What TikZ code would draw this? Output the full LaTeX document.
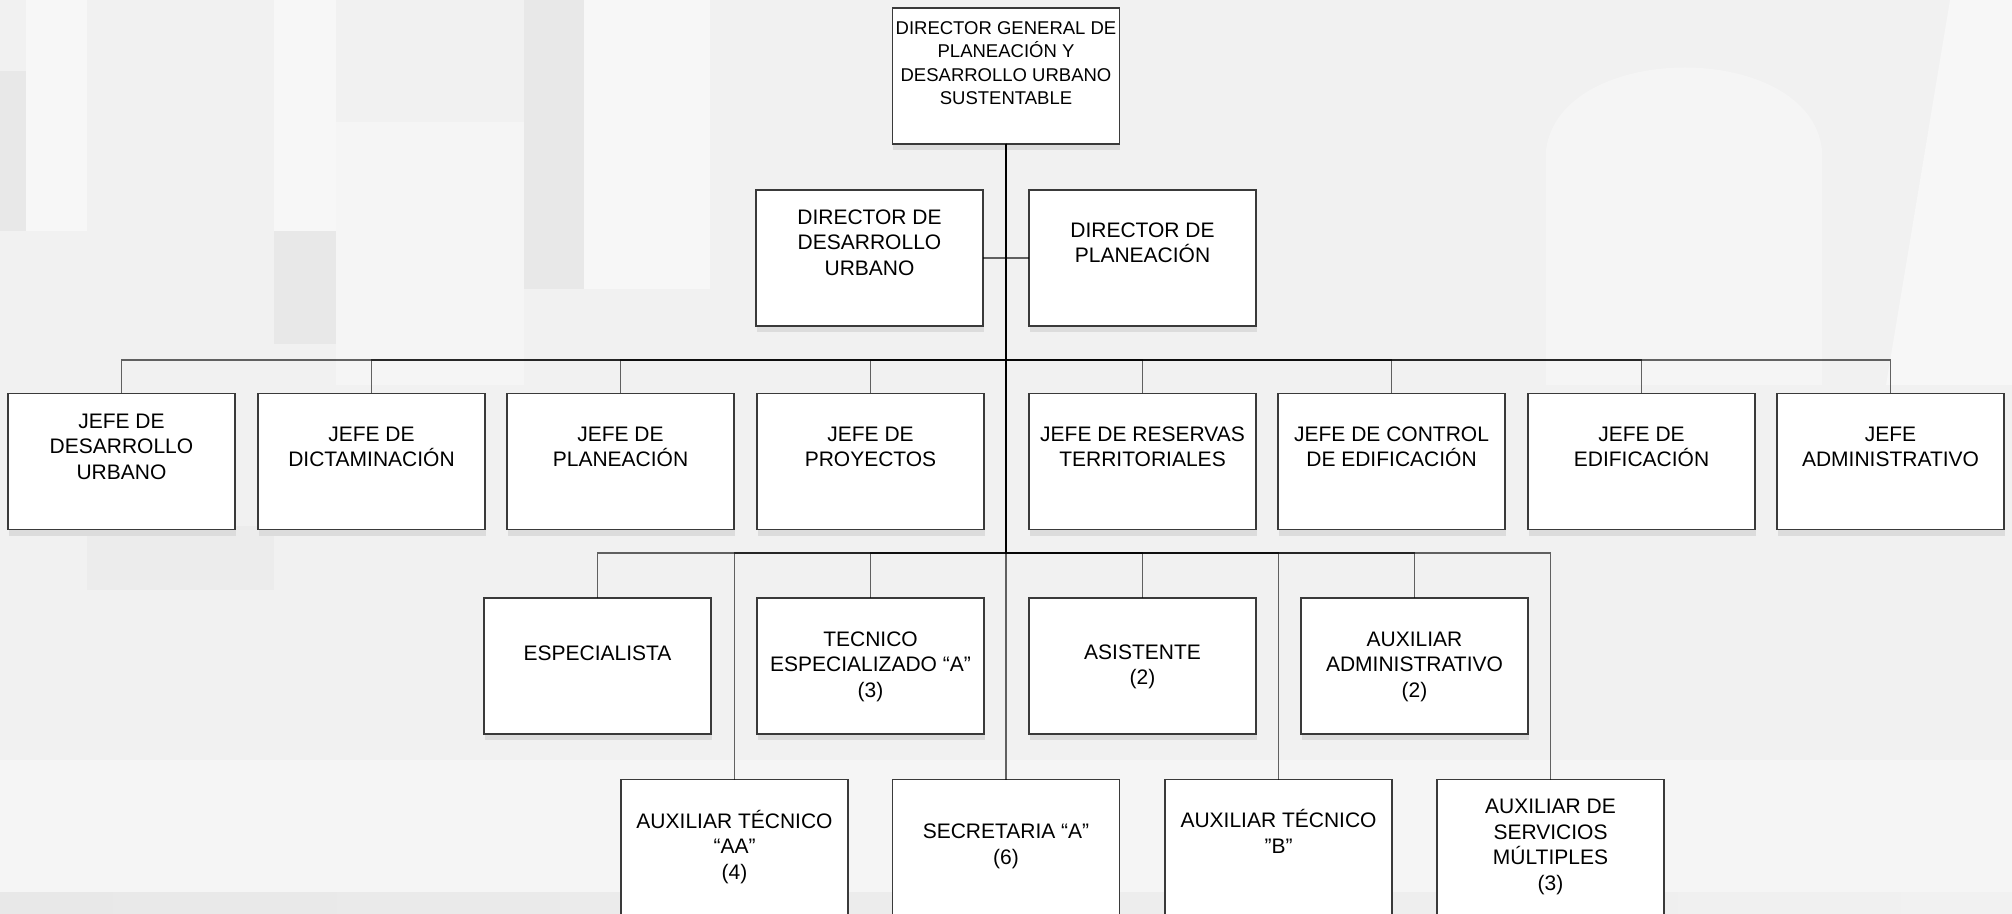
\documentclass[tikz,border=0pt]{standalone}
\usepackage{fontspec}
\setmainfont{Liberation Sans}
\usetikzlibrary{shadows}
\definecolor{bgbase}{HTML}{F1F1F1}
\definecolor{bglight}{HTML}{F7F7F7}
\definecolor{bgdark}{HTML}{E8E8E8}
\definecolor{bordercol}{HTML}{3A3A3A}
\definecolor{shadowcol}{HTML}{DCDCDC}
\begin{document}
\begin{tikzpicture}[x=0.5pt,y=-0.5pt,
  orgbox/.style={draw=bordercol, fill=white, line width=0.7pt,
    minimum width=113.5pt, minimum height=68pt, inner sep=0pt, outer sep=0pt,
    drop shadow={shadow xshift=0.3pt, shadow yshift=-3pt, fill=shadowcol, opacity=1}},
  lbl/.style={align=center, inner sep=0pt, text=black,
    font=\fontsize{10.5}{12.8}\selectfont,
    execute at begin node=\strut, execute at end node=\strut},
  toplbl/.style={lbl, font=\fontsize{9.25}{11.6}\selectfont},
  conn/.style={draw=black, draw opacity=0.6, line width=0.6pt}]
\useasboundingbox (0,0) rectangle (2012,914);
% background watermark
\fill[bgbase] (0,0) rectangle (2012,914);
\fill[bgdark] (0,71) rectangle (26,231);
\fill[bglight] (26,0) rectangle (87,231);
\fill[bglight] (274,0) rectangle (336,231);
\fill[bgdark] (274,231) rectangle (336,344);
\fill[bglight!60!bgbase] (336,122) rectangle (524,385);
\fill[bgdark] (524,0) rectangle (584,289);
\fill[bglight] (584,0) rectangle (710,289);
\fill[bgdark!60!bgbase] (87,526) rectangle (274,590);
\fill[bglight!60!bgbase] (1546,385) -- (1546,150) .. controls (1560,40) and (1810,40) .. (1822,150) -- (1822,385) -- cycle;
\fill[bglight] (1886,385) -- (1950,0) -- (2012,0) -- (2012,385) -- cycle;
\fill[bglight!70!bgbase] (0,760) rectangle (2012,892);
\shade[left color=bgdark, right color=bgbase] (0,892) rectangle (2012,914);
% junction points
\coordinate (b1) at (1006,360);
\coordinate (b2) at (1006,553);
% boxes
\node[orgbox] (dg) at (1006,76) {};
\node[orgbox] (ddu) at (869.5,258) {};
\node[orgbox] (dp) at (1142.5,258) {};
\node[orgbox] (j1) at (121.5,461.5) {};
\node[orgbox] (j2) at (371.5,461.5) {};
\node[orgbox] (j3) at (620.5,461.5) {};
\node[orgbox] (j4) at (870.5,461.5) {};
\node[orgbox] (j5) at (1142.5,461.5) {};
\node[orgbox] (j6) at (1391.5,461.5) {};
\node[orgbox] (j7) at (1641.5,461.5) {};
\node[orgbox] (j8) at (1890.5,461.5) {};
\node[orgbox] (r31) at (597.5,666) {};
\node[orgbox] (r32) at (870.5,666) {};
\node[orgbox] (r33) at (1142.5,666) {};
\node[orgbox] (r34) at (1414.5,666) {};
\node[orgbox] (r41) at (734.5,847.5) {};
\node[orgbox] (r42) at (1006,847.5) {};
\node[orgbox] (r43) at (1278.5,847.5) {};
\node[orgbox] (r44) at (1550.5,847.5) {};
% connectors
\draw[conn] (dg.south) |- (ddu.east);
\draw[conn] (dg.south) |- (dp.west);
\foreach \j in {j1,j2,j3,j4,j5,j6,j7,j8}
  \draw[conn] (dg.south) -- (b1) -| (\j.north);
\foreach \r in {r31,r32,r33,r34,r41,r42,r43,r44}
  \draw[conn] (dg.south) -- (b2) -| (\r.north);
% texts
\node[toplbl] (tdg) at (1006,66.5) {DIRECTOR GENERAL DE\\PLANEACIÓN Y\\DESARROLLO URBANO\\SUSTENTABLE};
\node[lbl] (tddu) at (869.5,246.5) {DIRECTOR DE\\DESARROLLO\\URBANO};
\node[lbl] (tdp) at (1142.5,246.5) {DIRECTOR DE\\PLANEACIÓN};
\node[lbl] (tj1) at (121.5,450.5) {JEFE DE\\DESARROLLO\\URBANO};
\node[lbl] (tj2) at (371.5,450.5) {JEFE DE\\DICTAMINACIÓN};
\node[lbl] (tj3) at (620.5,450.5) {JEFE DE\\PLANEACIÓN};
\node[lbl] (tj4) at (870.5,450.5) {JEFE DE\\PROYECTOS};
\node[lbl] (tj5) at (1142.5,450.5) {JEFE DE RESERVAS\\TERRITORIALES};
\node[lbl] (tj6) at (1391.5,450.5) {JEFE DE CONTROL\\DE EDIFICACIÓN};
\node[lbl] (tj7) at (1641.5,450.5) {JEFE DE\\EDIFICACIÓN};
\node[lbl] (tj8) at (1890.5,450.5) {JEFE\\ADMINISTRATIVO};
\node[lbl] (tr31) at (597.5,655.5) {ESPECIALISTA};
\node[lbl] (tr32) at (870.5,668.5) {TECNICO\\ESPECIALIZADO “A”\\(3)};
\node[lbl] (tr33) at (1142.5,668.5) {ASISTENTE\\(2)};
\node[lbl] (tr34) at (1414.5,668.5) {AUXILIAR\\ADMINISTRATIVO\\(2)};
\node[lbl] (tr41) at (734.5,848.5) {AUXILIAR TÉCNICO\\“AA”\\(4)};
\node[lbl] (tr42) at (1006,848) {SECRETARIA “A”\\(6)};
\node[lbl] (tr43) at (1278.5,835.5) {AUXILIAR TÉCNICO\\”B”};
\node[lbl] (tr44) at (1550.5,848.5) {AUXILIAR DE\\SERVICIOS\\MÚLTIPLES\\(3)};
\end{tikzpicture}
\end{document}
